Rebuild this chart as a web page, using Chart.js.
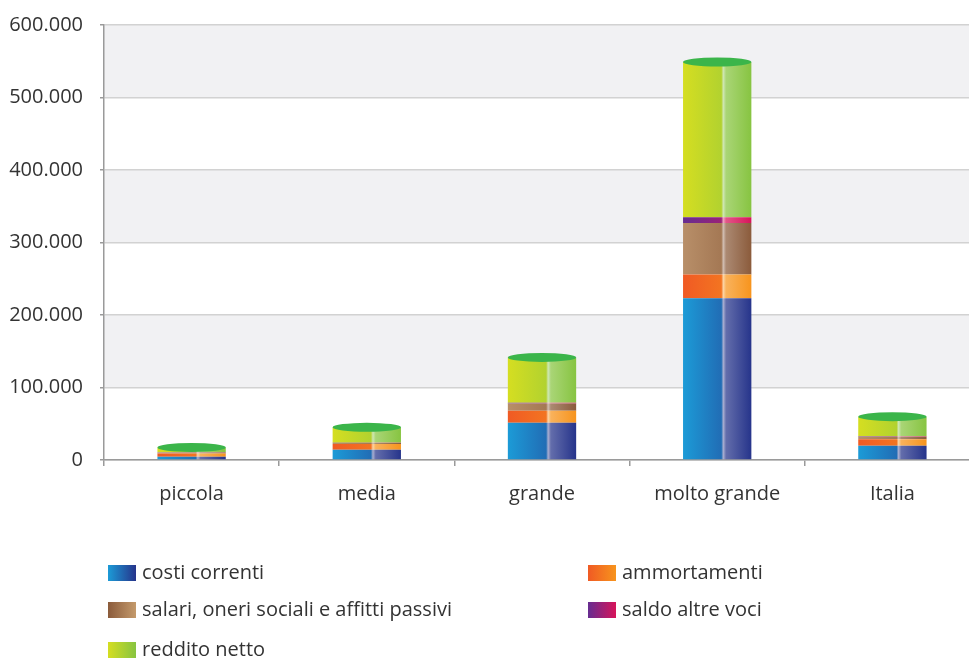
<!DOCTYPE html>
<html lang="it">
<head>
<meta charset="utf-8">
<title>Conto economico per classe di dimensione</title>
<script src="https://cdn.jsdelivr.net/npm/chart.js@4.4.1/dist/chart.umd.min.js"></script>
<style>
  html, body { margin: 0; padding: 0; background: #fff; overflow: hidden; }
  #wrap { position: relative; width: 980px; height: 534px; margin-top: -4px; }
  .legend { position: absolute; left: 0; top: 0; width: 969px; height: 660px; pointer-events: none;
            font-family: 'Open Sans', sans-serif; font-size: 20px; color: #333; }
  .legend div { position: absolute; white-space: nowrap; line-height: 24px; }
  .legend span { display: inline-block; width: 28px; height: 16px; vertical-align: -2px; margin-right: 6px; }
</style>
</head>
<body>
<div id="wrap"><canvas id="chart"></canvas></div>
<div class="legend" id="legend"></div>
<script>
// categorie e valori (euro)
const categories = ['piccola', 'media', 'grande', 'molto grande', 'Italia'];
const costiCorrenti = [4500, 14000, 51500, 223000, 19800];
const ammortamenti = [4500, 8000, 16500, 33000, 8800];
const salari = [1500, 1500, 10000, 71000, 3600];
const saldoAltreVoci = [300, 300, 1000, 8000, 500];
const redditoNetto = [6500, 21300, 62500, 214000, 27100];
const yTickLabels = ['0', '100.000', '200.000', '300.000', '400.000', '500.000', '600.000'];

const seriesNames = ['costi correnti', 'ammortamenti', 'salari, oneri sociali e affitti passivi', 'saldo altre voci', 'reddito netto'];
const seriesData = [costiCorrenti, ammortamenti, salari, saldoAltreVoci, redditoNetto];
// left / right colour of each cylinder
const seriesColors = [
  ['#1c9bd7', '#26348b'],
  ['#f05a24', '#f7941d'],
  ['#b88f69', '#8b5b3b'],
  ['#662d91', '#d7145a'],
  ['#d5de21', '#87c441']
];
const legendColors = [
  ['#1c9bd7', '#26348b'],
  ['#f05a24', '#f7941d'],
  ['#8b5b3b', '#c49a6c'],
  ['#662d91', '#d7145a'],
  ['#d5de21', '#87c441']
];

const BAR_PCT = 0.39;

function hexToRgb(h) {
  const n = parseInt(h.slice(1), 16);
  return [n >> 16 & 255, n >> 8 & 255, n & 255];
}
function mix(a, b, t) {
  const A = hexToRgb(a), B = hexToRgb(b);
  return 'rgb(' + A.map((v, i) => Math.round(v + (B[i] - v) * t)).join(',') + ')';
}

// horizontal gradient with a light stripe, gives the cylinder look
function cylinder(pair) {
  return (ctx) => {
    const chart = ctx.chart;
    const x = chart.scales.x;
    if (!chart.chartArea || !x || ctx.dataIndex === undefined) return pair[0];
    const w = (x.right - x.left) / categories.length * BAR_PCT;
    const cx = x.getPixelForValue(ctx.dataIndex);
    const g = chart.ctx.createLinearGradient(cx - w / 2, 0, cx + w / 2, 0);
    g.addColorStop(0, pair[0]);
    g.addColorStop(0.56, mix(pair[0], pair[1], 0.45));
    g.addColorStop(0.59, mix(pair[1], '#ffffff', 0.6));
    g.addColorStop(0.63, mix(pair[1], '#ffffff', 0.28));
    g.addColorStop(1, pair[1]);
    return g;
  };
}

// alternating grey bands behind the bars
const bands = {
  id: 'bands',
  beforeDraw(chart) {
    const { ctx, chartArea, scales } = chart;
    const y = scales.y;
    ctx.save();
    ctx.fillStyle = '#f1f1f3';
    for (let v = 100000; v < 600000; v += 200000) {
      const top = y.getPixelForValue(v + 100000);
      const bot = y.getPixelForValue(v);
      ctx.fillRect(chartArea.left, top, chartArea.right - chartArea.left, bot - top);
    }
    ctx.restore();
  }
};

// green elliptical cap on top of each stack
const caps = {
  id: 'caps',
  afterDatasetsDraw(chart) {
    const meta = chart.getDatasetMeta(seriesData.length - 1);
    const ctx = chart.ctx;
    ctx.save();
    ctx.fillStyle = '#3bb54a';
    meta.data.forEach(el => {
      ctx.beginPath();
      ctx.ellipse(el.x, el.y, el.width / 2, 4.5, 0, 0, Math.PI * 2);
      ctx.fill();
    });
    ctx.restore();
  }
};

Chart.defaults.font.family = "'Open Sans', sans-serif";
Chart.defaults.font.size = 20;
Chart.defaults.color = '#333';

new Chart(document.getElementById('chart'), {
  type: 'bar',
  data: {
    labels: categories,
    datasets: seriesData.map((d, i) => ({
      label: seriesNames[i],
      data: d,
      backgroundColor: cylinder(seriesColors[i]),
      borderWidth: 0,
      barPercentage: BAR_PCT,
      categoryPercentage: 1
    }))
  },
  options: {
    responsive: true,
    maintainAspectRatio: false,
    animation: false,
    events: [],
    layout: { padding: { top: 15, left: 0, right: 0, bottom: 8 } },
    plugins: { legend: { display: false }, tooltip: { enabled: false } },
    scales: {
      x: {
        stacked: true,
        grid: { drawOnChartArea: false, color: '#9a9a9a', tickLength: 6, lineWidth: 1.5 },
        border: { color: '#9a9a9a', width: 1.5 },
        ticks: { padding: 16, maxRotation: 0 }
      },
      y: {
        stacked: true,
        min: 0,
        max: 600000,
        afterFit(scale) { scale.width = 104; },
        grid: { color: '#d2d2d2', lineWidth: 1.5, tickLength: 4, tickColor: '#9a9a9a' },
        border: { color: '#9a9a9a', width: 1.5 },
        ticks: {
          stepSize: 100000,
          padding: 17,
          callback: (v) => yTickLabels[Math.round(v / 100000)]
        }
      }
    }
  },
  plugins: [bands, caps]
});

// legend in two columns under the chart
const legendPos = [[108, 560], [588, 560], [108, 597], [588, 597], [108, 637]];
const legend = document.getElementById('legend');
seriesNames.forEach((name, i) => {
  const row = document.createElement('div');
  row.style.left = legendPos[i][0] + 'px';
  row.style.top = legendPos[i][1] + 'px';
  const box = document.createElement('span');
  box.style.background = 'linear-gradient(to right,' + legendColors[i][0] + ',' + legendColors[i][1] + ')';
  row.appendChild(box);
  row.appendChild(document.createTextNode(name));
  legend.appendChild(row);
});
</script>
</body>
</html>
